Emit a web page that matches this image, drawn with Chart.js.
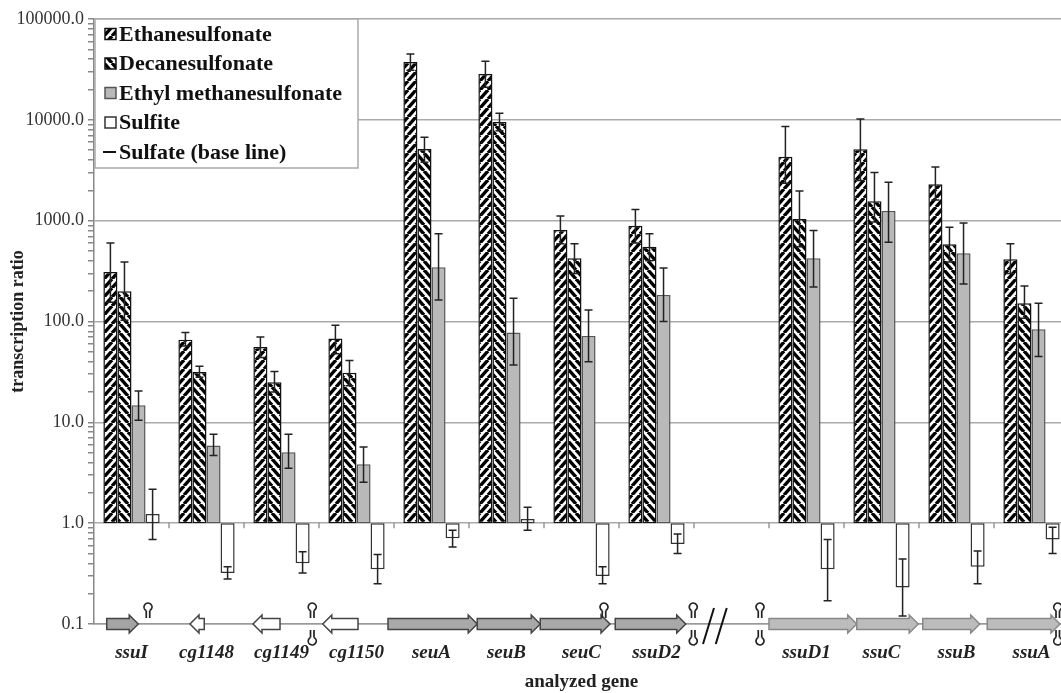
<!DOCTYPE html>
<html>
<head>
<meta charset="utf-8">
<script src="https://cdn.jsdelivr.net/npm/chart.js@4.4.1/dist/chart.umd.min.js"></script>
<style>
  html, body { margin: 0; padding: 0; background: #fff; overflow: hidden; }
  canvas { display: block; }
</style>
</head>
<body>
<canvas id="chart" width="1072" height="693"></canvas>
<script>
// genes in the order of the chart, '' marks the gap of the "//" break
const genes = ['ssuI', 'cg1148', 'cg1149', 'cg1150', 'seuA', 'seuB', 'seuC', 'ssuD2', '', 'ssuD1', 'ssuC', 'ssuB', 'ssuA'];

const ethane    = [310, 66, 56, 68, 37500, 28500, 810, 890, null, 4300, 5100, 2300, 415];
const ethaneHi  = [600, 78, 70, 92, 45000, 38000, 1110, 1290, null, 8600, 10200, 3400, 590];
const ethaneLo  = [155, 57, 44, 48, 31000, 21000, 590, 600, null, 2350, 2500, 1600, 300];

const decane    = [200, 31.6, 25, 31, 5150, 9500, 425, 550, null, 1040, 1560, 585, 152];
const decaneHi  = [390, 36, 32, 41, 6700, 11600, 590, 740, null, 1970, 3000, 860, 225];
const decaneLo  = [103, 28, 20, 23, 3800, 7800, 300, 400, null, 550, 970, 390, 108];

const ems       = [14.8, 5.9, 5.05, 3.85, 346, 78, 72, 183, null, 425, 1245, 475, 84];
const emsHi     = [20.4, 7.6, 7.6, 5.7, 740, 170, 130, 340, null, 800, 2400, 950, 152];
const emsLo     = [10.5, 4.7, 3.5, 2.55, 163, 37, 40, 100, null, 220, 610, 235, 45];

const sulfite   = [1.23, 0.32, 0.40, 0.35, 0.71, 1.1, 0.30, 0.62, null, 0.35, 0.23, 0.37, 0.69];
const sulfiteHi = [2.17, 0.37, 0.52, 0.49, 0.85, 1.44, 0.37, 0.78, null, 0.69, 0.44, 0.53, 0.91];
const sulfiteLo = [0.69, 0.28, 0.32, 0.25, 0.58, 0.85, 0.25, 0.50, null, 0.17, 0.12, 0.25, 0.50];

const baseLine = 1; // sulfate
const decades = [0.1, 1, 10, 100, 1000, 10000];
const yTop = 100000;

// gene map drawn along the 0.1 line, positions in category units
const geneArrows = [
  { from: 0.17, to: 0.59, dir: 1, fill: '#a4a4a4', stroke: '#444' },
  { from: 1.28, to: 1.47, dir: -1, fill: '#fff', stroke: '#444' },
  { from: 2.12, to: 2.48, dir: -1, fill: '#fff', stroke: '#444' },
  { from: 3.05, to: 3.52, dir: -1, fill: '#fff', stroke: '#444' },
  { from: 3.92, to: 5.11, dir: 1, fill: '#a8a8a8', stroke: '#444' },
  { from: 5.11, to: 5.95, dir: 1, fill: '#a8a8a8', stroke: '#444' },
  { from: 5.95, to: 6.88, dir: 1, fill: '#a8a8a8', stroke: '#444' },
  { from: 6.95, to: 7.89, dir: 1, fill: '#a8a8a8', stroke: '#444' },
  { from: 9.0, to: 10.17, dir: 1, fill: '#bcbcbc', stroke: '#888' },
  { from: 10.17, to: 10.99, dir: 1, fill: '#bcbcbc', stroke: '#888' },
  { from: 11.05, to: 11.81, dir: 1, fill: '#bcbcbc', stroke: '#888' },
  { from: 11.91, to: 12.88, dir: 1, fill: '#bcbcbc', stroke: '#888' }
];
const hairpins = [
  { at: 0.72, up: true, down: false },
  { at: 2.91, up: true, down: true },
  { at: 6.8, up: true, down: false },
  { at: 7.99, up: true, down: true },
  { at: 8.88, up: true, down: true },
  { at: 12.85, up: true, down: true }
];
const breakAt = [8.12, 8.29];

function hatch(dir) {
  const w = 8, h = 9;
  const c = document.createElement('canvas');
  c.width = w; c.height = h;
  const g = c.getContext('2d');
  g.fillStyle = '#fff';
  g.fillRect(0, 0, w, h);
  g.strokeStyle = '#000';
  g.lineWidth = 3.4;
  g.beginPath();
  for (let k = -1; k <= 1; k++) {
    if (dir > 0) { g.moveTo(k * w, h); g.lineTo(k * w + w, 0); }
    else { g.moveTo(k * w, 0); g.lineTo(k * w + w, h); }
  }
  g.stroke();
  return g.createPattern(c, 'repeat');
}

const ctx0 = document.getElementById('chart').getContext('2d');
const ethanePattern = hatch(1);
const decanePattern = hatch(-1);

const floating = vals => vals.map(v => v == null ? null : [baseLine, v]);

const series = [
  { label: 'Ethanesulfonate', vals: ethane, hi: ethaneHi, lo: ethaneLo, fill: ethanePattern, border: '#111' },
  { label: 'Decanesulfonate', vals: decane, hi: decaneHi, lo: decaneLo, fill: decanePattern, border: '#111' },
  { label: 'Ethyl methanesulfonate', vals: ems, hi: emsHi, lo: emsLo, fill: '#b9b9b9', border: '#555' },
  { label: 'Sulfite', vals: sulfite, hi: sulfiteHi, lo: sulfiteLo, fill: '#fff', border: '#333' }
];

const isDecade = v => Math.abs(Math.log10(v) - Math.round(Math.log10(v))) < 1e-9;

const errorBars = {
  id: 'errorBars',
  afterDatasetsDraw(chart) {
    const { ctx, scales: { y } } = chart;
    ctx.save();
    ctx.strokeStyle = '#222';
    ctx.lineWidth = 1.5;
    series.forEach((s, di) => {
      chart.getDatasetMeta(di).data.forEach((bar, i) => {
        if (s.vals[i] == null) return;
        const yh = y.getPixelForValue(s.hi[i]);
        const yl = y.getPixelForValue(s.lo[i]);
        ctx.beginPath();
        ctx.moveTo(bar.x, yh); ctx.lineTo(bar.x, yl);
        ctx.moveTo(bar.x - 4, yh); ctx.lineTo(bar.x + 4, yh);
        ctx.moveTo(bar.x - 4, yl); ctx.lineTo(bar.x + 4, yl);
        ctx.stroke();
      });
    });
    ctx.restore();
  }
};

const geneMap = {
  id: 'geneMap',
  beforeDatasetsDraw(chart) {
    const { ctx, scales: { x, y } } = chart;
    const cw = (x.right - x.left) / genes.length;
    const px = u => x.left + u * cw;
    const y0 = y.getPixelForValue(0.1);
    const y1 = y.getPixelForValue(baseLine);
    ctx.save();
    // axis ticks on the base line
    ctx.strokeStyle = '#999';
    ctx.lineWidth = 1.5;
    ctx.beginPath();
    for (let i = 1; i < genes.length; i++) {
      ctx.moveTo(px(i), y1 - 1); ctx.lineTo(px(i), y1 + 5);
    }
    ctx.stroke();
    // arrows
    geneArrows.forEach(a => {
      const x0 = px(a.from), x1 = px(a.to);
      const h = 5.5, H = 9, L = Math.min(9, x1 - x0);
      let pts;
      if (a.dir > 0) {
        pts = [[x0, y0 - h], [x1 - L, y0 - h], [x1 - L, y0 - H], [x1, y0], [x1 - L, y0 + H], [x1 - L, y0 + h], [x0, y0 + h]];
      } else {
        pts = [[x1, y0 - h], [x0 + L, y0 - h], [x0 + L, y0 - H], [x0, y0], [x0 + L, y0 + H], [x0 + L, y0 + h], [x1, y0 + h]];
      }
      ctx.beginPath();
      pts.forEach((p, k) => k ? ctx.lineTo(p[0], p[1]) : ctx.moveTo(p[0], p[1]));
      ctx.closePath();
      ctx.fillStyle = a.fill;
      ctx.fill();
      ctx.strokeStyle = a.stroke;
      ctx.lineWidth = 1.5;
      ctx.stroke();
    });
    // terminator hairpins
    ctx.strokeStyle = '#222';
    ctx.lineWidth = 1.7;
    const pin = (cx, sign) => {
      const cy = y0 - sign * 17, r = 4;
      const dx = r * Math.sin(0.45), dy = r * Math.cos(0.45);
      ctx.beginPath();
      if (sign > 0) ctx.arc(cx, cy, r, Math.PI / 2 + 0.45, Math.PI / 2 - 0.45);
      else ctx.arc(cx, cy, r, -Math.PI / 2 + 0.45, -Math.PI / 2 - 0.45);
      ctx.stroke();
      ctx.beginPath();
      ctx.moveTo(cx - dx, cy + sign * dy); ctx.lineTo(cx - dx, y0 - sign * 6);
      ctx.moveTo(cx + dx, cy + sign * dy); ctx.lineTo(cx + dx, y0 - sign * 6);
      ctx.stroke();
    };
    hairpins.forEach(p => {
      if (p.up) pin(px(p.at), 1);
      if (p.down) pin(px(p.at), -1);
    });
    // break mark
    ctx.strokeStyle = '#111';
    ctx.lineWidth = 2;
    ctx.beginPath();
    breakAt.forEach(u => {
      ctx.moveTo(px(u), y0 + 20); ctx.lineTo(px(u) + 11, y0 - 16);
    });
    ctx.stroke();
    ctx.restore();
  }
};

const boxLegend = {
  id: 'boxLegend',
  afterDraw(chart) {
    const { ctx, chartArea } = chart;
    const left = chartArea.left + 1, top = chartArea.top;
    ctx.save();
    ctx.fillStyle = '#fff';
    ctx.fillRect(left, top, 263, 149);
    ctx.strokeStyle = '#aaa';
    ctx.lineWidth = 1.5;
    ctx.strokeRect(left, top, 263, 149);
    ctx.font = 'bold 22px "Liberation Serif", "Times New Roman", serif';
    ctx.textBaseline = 'middle';
    const items = series.map(s => ({ label: s.label, fill: s.fill, border: s.border })).concat([{ label: 'Sulfate (base line)', line: true }]);
    items.forEach((it, i) => {
      const cy = top + 15 + i * 29.5;
      if (it.line) {
        ctx.strokeStyle = '#111';
        ctx.lineWidth = 2;
        ctx.beginPath();
        ctx.moveTo(left + 8, cy); ctx.lineTo(left + 21, cy);
        ctx.stroke();
      } else {
        ctx.fillStyle = it.fill;
        ctx.fillRect(left + 10, cy - 5.5, 11, 11);
        ctx.strokeStyle = it.border;
        ctx.lineWidth = 1.5;
        ctx.strokeRect(left + 10, cy - 5.5, 11, 11);
      }
      ctx.fillStyle = '#111';
      ctx.fillText(it.label, left + 24, cy + 1);
    });
    ctx.restore();
  }
};

const yTicks = [];
decades.forEach(d => { for (let k = 1; k <= 9; k++) yTicks.push(Math.round(d * k * 10) / 10); });
yTicks.push(yTop);

new Chart(ctx0, {
  type: 'bar',
  data: {
    labels: genes,
    datasets: series.map(s => ({
      label: s.label,
      data: floating(s.vals),
      backgroundColor: s.fill,
      borderColor: s.border,
      borderWidth: 1.5,
      borderSkipped: false,
      categoryPercentage: 0.75,
      barPercentage: 1.0
    }))
  },
  options: {
    responsive: false,
    animation: false,
    layout: { padding: { top: 19, right: 3, left: 0, bottom: 0 } },
    plugins: {
      legend: { display: false },
      tooltip: { enabled: false }
    },
    scales: {
      x: {
        grid: { display: false, drawTicks: false },
        border: { display: true, color: '#999', width: 1.5 },
        ticks: {
          autoSkip: false,
          maxRotation: 0,
          padding: 18,
          color: '#222',
          font: { family: '"Liberation Serif", "Times New Roman", serif', size: 19, weight: 'bold', style: 'italic' }
        },
        title: {
          display: true,
          text: 'analyzed gene',
          color: '#222',
          padding: { top: 2, bottom: 0 },
          font: { family: '"Liberation Serif", "Times New Roman", serif', size: 19, weight: 'bold' }
        },
        afterFit: scale => { scale.height = 69; }
      },
      y: {
        type: 'logarithmic',
        min: 0.1,
        max: yTop,
        afterBuildTicks: scale => { scale.ticks = yTicks.map(v => ({ value: v })); },
        grid: {
          color: c => (c.tick && isDecade(c.tick.value)) ? '#aaa' : 'rgba(0,0,0,0)',
          tickColor: '#888',
          lineWidth: 1.5,
          tickLength: 6
        },
        border: { display: true, color: '#888', width: 1.5 },
        ticks: {
          autoSkip: false,
          padding: 4,
          color: '#333',
          font: { family: '"Liberation Serif", "Times New Roman", serif', size: 18 },
          callback: v => isDecade(v) ? Number(v).toFixed(1) : ''
        },
        title: {
          display: true,
          text: 'transcription ratio',
          color: '#222',
          padding: { top: 8, bottom: 0 },
          font: { family: '"Liberation Serif", "Times New Roman", serif', size: 18, weight: 'bold' }
        },
        afterFit: scale => { scale.width = 94; }
      }
    }
  },
  plugins: [geneMap, errorBars, boxLegend]
});
</script>
</body>
</html>
